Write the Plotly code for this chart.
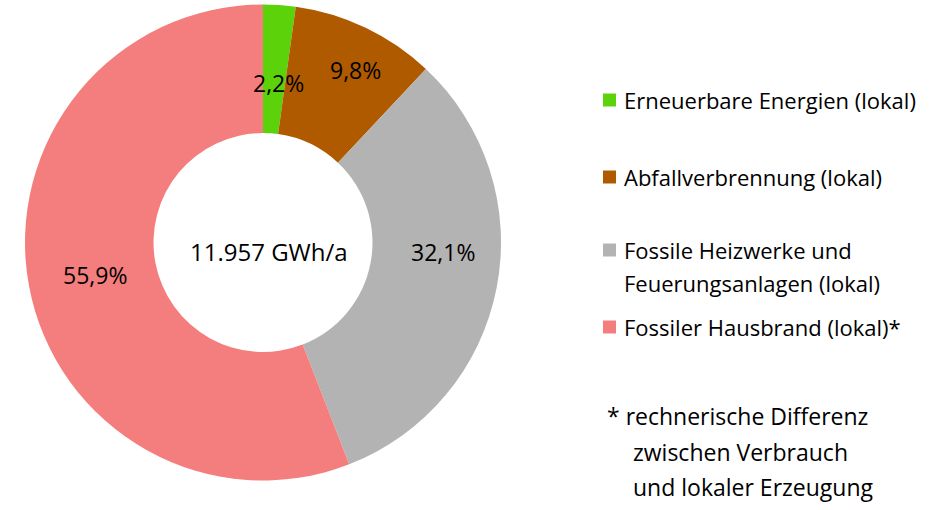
import plotly.graph_objects as go

W, H = 947, 510

categories = ["Erneuerbare Energien (lokal)", "Abfallverbrennung (lokal)",
              "Fossile Heizwerke und<br>Feuerungsanlagen (lokal)", "Fossiler Hausbrand (lokal)*"]
values = [2.2, 9.8, 32.1, 55.9]
colors = ["#5CD20A", "#B05A00", "#B3B3B3", "#F47E7E"]
center_label = "11.957 GWh/a"
footnote = ["* rechnerische Differenz", "zwischen Verbrauch", "und lokaler Erzeugung"]

FONT = "Open Sans"

def px(x):
    return x / W

def py(y):
    return 1 - y / H

fig = go.Figure(go.Pie(
    labels=categories,
    values=values,
    hole=0.46,
    sort=False,
    direction="clockwise",
    rotation=0,
    marker=dict(colors=colors, line=dict(width=0)),
    textinfo="none",
    domain=dict(x=[px(25), px(501)], y=[py(481), py(4)]),
    showlegend=False,
    hoverinfo="label+percent",
))

# slice percentage labels (placed like the original's label positions)
label_pos = [(278, 83), (355, 70), (443, 252), (95, 275)]
total = sum(values)
annotations = []
for v, (lx, ly) in zip(values, label_pos):
    annotations.append(dict(text=f"{v / total * 100:.1f}%".replace(".", ","),
                            x=px(lx), y=py(ly), xref="paper", yref="paper",
                            showarrow=False, xanchor="center", yanchor="middle",
                            font=dict(family=FONT, size=23, color="#000000")))

annotations.append(dict(text=center_label, x=px(269), y=py(251), xref="paper", yref="paper",
                        showarrow=False, font=dict(family=FONT, size=24, color="#000000"),
                        xanchor="center", yanchor="middle"))

shapes = []
legend_y = [[100], [177], [250, 283], [327]]
for lab, col, lys in zip(categories, colors, legend_y):
    sq_y = lys[0]
    shapes.append(dict(type="rect", xref="paper", yref="paper",
                       x0=px(603), x1=px(616), y0=py(sq_y + 6.5), y1=py(sq_y - 6.5),
                       fillcolor=col, line=dict(width=0)))
    for line, ly in zip(lab.split("<br>"), lys):
        annotations.append(dict(text=line, x=px(622), y=py(ly), xref="paper", yref="paper",
                                showarrow=False, align="left", xanchor="left", yanchor="middle",
                                font=dict(family=FONT, size=22, color="#000000")))

foot_x = [605, 631, 631]
foot_y = [416, 452, 487]
for t, fx, fy in zip(footnote, foot_x, foot_y):
    annotations.append(dict(text=t, x=px(fx), y=py(fy), xref="paper", yref="paper",
                            showarrow=False, xanchor="left", yanchor="middle",
                            font=dict(family=FONT, size=23, color="#000000")))

fig.update_layout(
    width=W, height=H,
    margin=dict(l=0, r=0, t=0, b=0),
    paper_bgcolor="white", plot_bgcolor="white",
    separators=",.",
    annotations=annotations,
    shapes=shapes,
)

fig.write_html("out.html",
               config={"displayModeBar": False},
               post_script="document.body.style.margin='0';document.body.style.overflow='hidden';")
